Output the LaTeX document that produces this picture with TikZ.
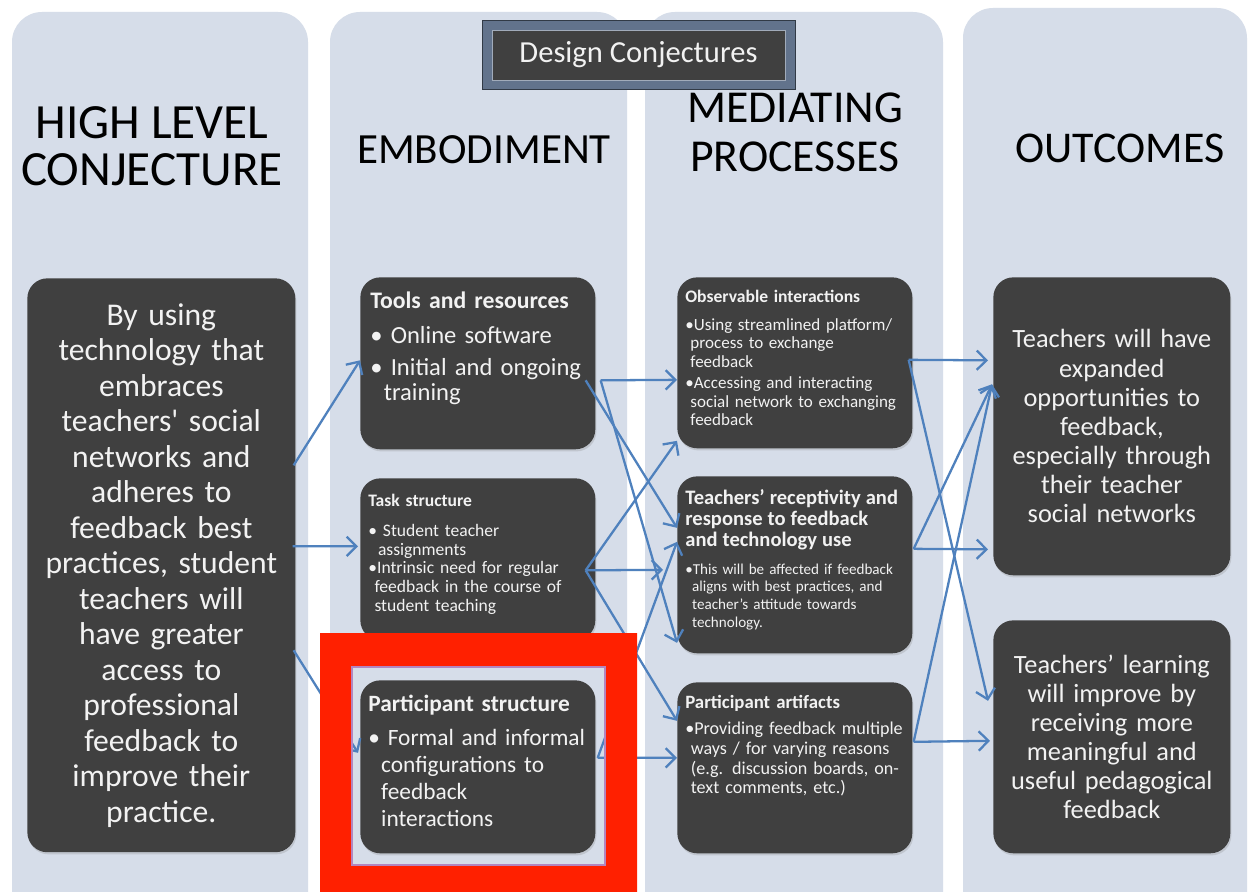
\documentclass[tikz,border=0pt]{standalone}
\usepackage{fontspec}
\setmainfont{Carlito}
\usetikzlibrary{arrows.meta,calc,shadows}

\definecolor{colbg}{RGB}{214,221,233}
\definecolor{boxbg}{RGB}{64,64,64}
\definecolor{boxtxt}{RGB}{242,242,242}
\definecolor{flowcol}{RGB}{79,129,189}
\definecolor{framered}{RGB}{255,32,0}
\definecolor{bevel}{RGB}{98,115,140}
\setlength{\parindent}{0pt}
\hyphenpenalty=10000
\exhyphenpenalty=10000

\newcommand{\bpoint}[1][0.55em]{\par\hangindent=#1\hangafter=1\noindent\textbullet}

\begin{document}
\begin{tikzpicture}[x=0.02cm,y=-0.02cm]
\tikzstyle{column}=[fill=colbg, rounded corners=0.6cm]
\tikzstyle{dbox}=[fill=boxbg, rounded corners=0.4cm, inner sep=0pt, anchor=north west,
  drop shadow={opacity=0.25, shadow xshift=0.6pt, shadow yshift=-1.2pt}]
\tikzstyle{head}=[align=center]
\tikzstyle{btxt}=[text=boxtxt, align=left, anchor=north west, inner sep=0pt, text width=4.6cm]
\tikzstyle{ctxt}=[text=boxtxt, align=center, text width=4.6cm]
\tikzstyle{flow}=[draw=flowcol, line width=1.3pt, -{Straight Barb[length=5.5pt,width=11pt]}]

\clip (0,0) rectangle (1249,892);
\fill[white] (0,0) rectangle (1249,892);

% columns
\fill[column] (12,12) rectangle (308,950);
\fill[column] (330,12) rectangle (627,950);
\fill[column] (645,12) rectangle (943,950);
\fill[column] (963,8) rectangle (1247,950);

\node[fill=bevel, draw=bevel!50!black, minimum width=6.26cm, minimum height=1.38cm, inner sep=0pt] (titleframe) at (638.5,55) {};
\node[fill=boxbg, draw=bevel!60!white, minimum width=5.86cm, minimum height=1cm, inner sep=0pt, text=boxtxt,
  font=\fontsize{17.4}{19}\selectfont] (title) at (titleframe.center) {Design Conjectures};

\node[head, font=\fontsize{28}{27}\selectfont] (hlchead) at (152,146) {HIGH LEVEL\\CONJECTURE};
\node[head, font=\fontsize{24.5}{26}\selectfont] (embhead) at (484,150) {EMBODIMENT};
\node[head, font=\fontsize{26}{28}\selectfont] (medhead) at (795,132) {MEDIATING\\PROCESSES};
\node[head, font=\fontsize{25}{26}\selectfont] (outhead) at (1120,148) {OUTCOMES};

% boxes
\node[dbox, minimum width=5.36cm, minimum height=11.48cm, text width=5.2cm, align=center, text=boxtxt,
  font=\fontsize{18}{20.2}\selectfont] (hlc) at (27,278) {By using\\technology that\\embraces\\teachers\textquotesingle{} social\\networks and\\adheres to\\feedback best\\practices, student\\teachers will\\have greater\\access to\\professional\\feedback to\\improve their\\practice.};
\node[dbox, minimum width=4.7cm, minimum height=3.44cm] (tools) at (360,277) {};
\node[dbox, minimum width=4.7cm, minimum height=3.24cm] (task) at (360,478) {};
\node[dbox, minimum width=4.7cm, minimum height=3.46cm] (part) at (360,680) {};
\node[dbox, minimum width=4.7cm, minimum height=3.42cm] (obs) at (677,277) {};
\node[dbox, minimum width=4.7cm, minimum height=3.54cm] (recep) at (677,476) {};
\node[dbox, minimum width=4.7cm, minimum height=3.42cm] (artif) at (677,682) {};
\node[dbox, minimum width=4.74cm, minimum height=5.96cm, ctxt, font=\fontsize{15}{16.6}\selectfont] (out1) at (993,277)
  {Teachers will have\\expanded\\opportunities to\\feedback,\\especially through\\their teacher\\social networks};
\node[dbox, minimum width=4.74cm, minimum height=4.66cm, ctxt, font=\fontsize{15}{16.6}\selectfont] (out2) at (993,620)
  {Teachers’ learning\\will improve by\\receiving more\\meaningful and\\useful pedagogical\\feedback};

\node[btxt, font=\fontsize{14}{14.2}\selectfont] (toolstxt) at ($(tools.north west)+(10,15)$)
  {{\fontsize{13.5}{14}\selectfont\bfseries Tools and resources}\par\vspace{5.6pt}\bpoint\ Online software\par\vspace{3.9pt}\bpoint\ Initial and ongoing\newline training\par};
\node[btxt, font=\fontsize{10}{10.6}\selectfont] (tasktxt) at ($(task.north west)+(8,16)$)
  {{\bfseries Task structure}\par\vspace{6.4pt}\bpoint\ Student teacher\newline assignments\par\bpoint[0.35em]Intrinsic need for regular\newline feedback in the course of\newline student teaching\par};
\node[btxt, font=\fontsize{13.3}{15.3}\selectfont] (parttxt) at ($(part.north west)+(8,15)$)
  {{\bfseries Participant structure}\par\vspace{4pt}\bpoint\ Formal and informal\newline configurations to\newline feedback\newline interactions\par};
\node[btxt, font=\fontsize{9.7}{10.4}\selectfont] (obstxt) at ($(obs.north west)+(8,13)$)
  {{\fontsize{10}{11}\selectfont\bfseries Observable interactions}\par\vspace{5.5pt}\bpoint[0.3em]Using streamlined platform/\newline process to exchange\newline feedback\par\vspace{2pt}\bpoint[0.3em]Accessing and interacting\newline social network to exchanging\newline feedback\par};
\node[btxt, font=\fontsize{8.6}{10.2}\selectfont] (receptxt) at ($(recep.north west)+(8,13)$)
  {{\fontsize{11.7}{11.9}\selectfont\bfseries Teachers’ receptivity and\newline response to feedback\newline and technology use\par}\vspace{5.7pt}\bpoint[0.45em]This will be affected if feedback\newline aligns with best practices, and\newline teacher’s attitude towards\newline technology.\par};
\node[btxt, font=\fontsize{10.3}{11.3}\selectfont] (artiftxt) at ($(artif.north west)+(8,13)$)
  {{\fontsize{10.7}{12}\selectfont\bfseries Participant artifacts}\par\vspace{3.4pt}\bpoint[0.3em]Providing feedback multiple\newline ways / for varying reasons\newline (e.g. discussion boards, on-\newline text comments, etc.)\par};

% conjecture to embodiment
\draw[flow] ($(hlc.east)+(-2,-100)$) -- ($(tools.west)+(0,-3)$);
\draw[flow] ($(hlc.east)+(-3,-19)$) -- ($(task.west)+(-2,-13)$);
\draw[flow] ($(hlc.east)+(-2,85)$) -- ($(part.west)+(-2,-14)$);
% embodiment to mediating processes
\draw[flow] ($(tools.east)+(5,17)$) -- ($(obs.west)+(0,17)$);
\draw[flow] ($(tools.east)+(-10,17)$) -- ($(recep.west)+(0,-37)$);
\draw[flow] ($(tools.east)+(5,17)$) -- ($(recep.west)+(0,78)$);
\draw[flow] ($(task.east)+(-10,11)$) -- ($(obs.west)+(0,78)$);
\draw[flow] ($(task.east)+(-10,11)$) -- ($(recep.west)+(-14,5)$);
\draw[flow] ($(task.east)+(-10,11)$) -- ($(artif.west)+(0,-47)$);
\draw[flow] ($(part.east)+(2,-9)$) -- ($(recep.west)+(0,-23)$);
\draw[flow] ($(part.east)+(2,-9)$) -- ($(artif.west)+(0,-10)$);
% mediating processes to outcomes
\draw[flow] ($(obs.east)+(-4,-3)$) -- ($(out1.west)+(-5,-66)$);
\draw[flow] ($(obs.east)+(-4,-3)$) -- ($(out2.west)+(-5,-36)$);
\draw[flow] ($(recep.east)+(1,-16)$) -- ($(out1.west)+(-5,123)$);
\draw[flow] ($(recep.east)+(1,-16)$) -- ($(out1.west)+(-1,-42)$);
\draw[flow] ($(artif.east)+(1,-26)$) -- ($(out2.west)+(-3,4)$);
\draw[flow] ($(artif.east)+(1,-26)$) -- ($(out1.west)+(-1,-42)$);

\fill[framered, even odd rule] (320,633) rectangle (637,950) (352,667) rectangle (605,865);
\draw[violet!40!colbg, line width=0.8pt] (352,667) rectangle (605,865);
\end{tikzpicture}
\end{document}
